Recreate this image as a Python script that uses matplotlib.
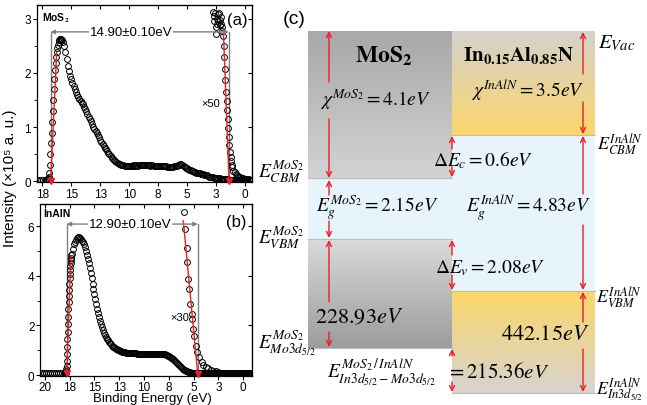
import matplotlib
matplotlib.use('Agg')
import matplotlib.pyplot as plt
import matplotlib.colors as mcolors
import numpy as np

plt.rcParams['font.family'] = ['Liberation Sans', 'DejaVu Sans']
plt.rcParams['mathtext.fontset'] = 'stix'

W, H = 647, 406

# ---------------------------------------------------------------- data (a)
# MoS2 valence band spectrum: binding energy (eV) / intensity (x1e5 a.u.)
MOS2_EV = np.round(np.concatenate([np.arange(18.0, 17.19, -0.2),
                                   np.arange(17.15, 15.84, -0.05),
                                   np.arange(15.8, -0.51, -0.1)]), 2)
MOS2_INT = [
    0.02, 0.02, 0.02, 0.02, 0.02,
    0.02, 0.03, 0.04, 0.06, 0.09, 0.15, 0.30, 0.50, 0.70, 0.90,
    1.10, 1.30, 1.50, 1.70, 1.88, 2.05, 2.18, 2.30, 2.39, 2.46,
    2.52, 2.57, 2.60, 2.62, 2.63, 2.62, 2.61,
    2.60, 2.56, 2.49, 2.39, 2.25, 2.13, 2.03, 1.95, 1.88, 1.82,
    1.76, 1.70, 1.64, 1.59, 1.55, 1.51, 1.48, 1.45, 1.42, 1.38,
    1.34, 1.29, 1.24, 1.19, 1.15, 1.11, 1.06, 1.01, 0.97, 0.93,
    0.89, 0.85, 0.81, 0.77, 0.73, 0.69, 0.66, 0.62, 0.59, 0.56,
    0.53, 0.50, 0.47, 0.44, 0.41, 0.39, 0.37, 0.35, 0.34, 0.33,
    0.32, 0.31, 0.30, 0.30, 0.29, 0.29, 0.29, 0.29, 0.29, 0.29,
    0.29, 0.30, 0.29, 0.29, 0.30, 0.30, 0.29, 0.30, 0.30, 0.30,
    0.30, 0.30, 0.30, 0.30, 0.30, 0.30, 0.29, 0.30, 0.30, 0.29,
    0.29, 0.29, 0.29, 0.29, 0.29, 0.28, 0.28, 0.28, 0.28, 0.28,
    0.28, 0.27, 0.27, 0.27, 0.27, 0.27, 0.27, 0.28, 0.29, 0.29,
    0.30, 0.31, 0.32, 0.32, 0.31, 0.29, 0.27, 0.25, 0.24, 0.23,
    0.22, 0.21, 0.20, 0.19, 0.18, 0.17, 0.16, 0.16, 0.15, 0.15,
    0.14, 0.14, 0.13, 0.12, 0.12, 0.11, 0.10, 0.09, 0.09, 0.08,
    0.08, 0.07, 0.07, 0.07, 0.06, 0.06, 0.06, 0.05, 0.05, 0.05,
    0.04, 0.04, 0.04, 0.04, 0.03, 0.03, 0.03, 0.03, 0.02, 0.02,
    0.02, 0.02, 0.02, 0.02, 0.02, 0.02, 0.02, 0.02, 0.02, 0.02,
    0.02, 0.02, 0.02, 0.02,
]
# x50 magnified valence band edge
MOS2_X50_EV = [2.76, 2.7, 2.65, 2.6, 2.55, 2.5, 2.45, 2.4, 2.35, 2.3,
               2.25, 2.2, 2.15, 2.1, 2.05, 2.0, 1.95, 1.9, 1.85, 1.8,
               1.75, 1.7, 1.65, 1.6, 1.55, 1.5, 1.45, 1.4, 1.35, 1.3,
               1.25, 1.2, 1.15, 1.1, 1.0, 0.9, 0.8, 0.7, 0.6, 0.5,
               0.4, 0.3, 0.2, 0.1, 0.0, -0.1, -0.2, -0.3, -0.4, -0.5]
MOS2_X50_INT = [3.12, 3.05, 2.95, 3.10, 2.85, 2.72, 3.00, 2.90, 3.08, 2.95,
                3.10, 2.98, 2.88, 3.02, 2.90, 2.78, 2.85, 2.68, 2.50, 2.30,
                2.08, 1.86, 1.65, 1.48, 1.32, 1.15, 0.98, 0.82, 0.67, 0.55,
                0.45, 0.38, 0.31, 0.26, 0.20, 0.17, 0.14, 0.12, 0.10, 0.09,
                0.08, 0.07, 0.06, 0.05, 0.05, 0.04, 0.04, 0.04, 0.03, 0.03]
MOS2_FIT_L = ([16.78, 16.26], [0.0, 2.37])
MOS2_FIT_R = ([1.38, 1.87], [0.0, 2.79])
MOS2_CUTOFF, MOS2_VBM_EDGE = 16.78, 1.40
MOS2_WIDTH = '14.90±0.10eV'

# ---------------------------------------------------------------- data (b)
INALN_EV = np.round(np.concatenate([np.arange(20.5, 18.05, -0.2),
                                    np.arange(18.0, 17.29, -0.025),
                                    np.arange(17.2, -0.91, -0.1)]), 3)
INALN_INT = [
    0.07, 0.07, 0.07, 0.07, 0.07, 0.07, 0.07, 0.07, 0.07, 0.07, 0.07, 0.07, 0.07,
    0.08, 0.08, 0.09, 0.10, 0.12, 0.16, 0.24, 0.38, 0.58, 0.85,
    1.15, 1.45, 1.75, 2.05, 2.35, 2.65, 2.93, 3.20, 3.45, 3.68,
    3.90, 4.08, 4.25, 4.40, 4.53, 4.64, 4.74, 4.83, 4.90,
    5.10, 5.27, 5.38, 5.46, 5.52, 5.55, 5.55, 5.52, 5.48, 5.42,
    5.35, 5.27, 5.15, 5.00, 4.85, 4.68, 4.50, 4.30, 4.10, 3.90,
    3.68, 3.46, 3.25, 3.05, 2.86, 2.68, 2.50, 2.33, 2.18, 2.04,
    1.92, 1.81, 1.71, 1.62, 1.53, 1.46, 1.40, 1.34, 1.29, 1.24,
    1.19, 1.15, 1.12, 1.09, 1.06, 1.03, 1.01, 0.99, 0.97, 0.95,
    0.94, 0.93, 0.92, 0.91, 0.90, 0.90, 0.89, 0.89, 0.88, 0.88,
    0.88, 0.87, 0.87, 0.87, 0.87, 0.86, 0.86, 0.86, 0.86, 0.86,
    0.86, 0.85, 0.85, 0.85, 0.85, 0.85, 0.85, 0.85, 0.85, 0.85,
    0.85, 0.85, 0.85, 0.85, 0.85, 0.84, 0.84, 0.84, 0.84, 0.84,
    0.84, 0.84, 0.83, 0.83, 0.82, 0.80, 0.78, 0.76, 0.73, 0.70,
    0.67, 0.63, 0.60, 0.56, 0.52, 0.48, 0.44, 0.40, 0.36, 0.32,
    0.28, 0.25, 0.22, 0.19, 0.17, 0.15, 0.13, 0.12, 0.11, 0.10,
    0.09, 0.09, 0.08, 0.08, 0.08, 0.08, 0.07, 0.07, 0.07, 0.07,
    0.07, 0.07, 0.07, 0.07, 0.07, 0.07, 0.07, 0.07, 0.07, 0.07,
    0.07, 0.07, 0.07, 0.07, 0.07, 0.07, 0.07, 0.07, 0.07, 0.07,
    0.07, 0.07, 0.07, 0.07, 0.07, 0.07, 0.07, 0.07, 0.07, 0.07,
    0.07, 0.07, 0.07, 0.07, 0.07, 0.07, 0.07, 0.07, 0.07, 0.07,
    0.07, 0.07, 0.07, 0.07, 0.07, 0.07, 0.07, 0.07, 0.07, 0.07,
    0.07, 0.07,
]
INALN_X30_EV = [5.96, 5.86, 5.69, 5.63, 5.53, 5.42, 5.35, 5.18, 5.12, 5.02,
                4.92, 4.75, 4.62, 4.41, 4.17, 4.0, 3.75, 3.5, 3.25, 3.0,
                2.75, 2.5, 2.25, 2.0, 1.75, 1.5, 1.25, 1.0, 0.75, 0.5,
                0.25, 0.0, -0.25, -0.5, -0.75]
INALN_X30_INT = [6.56, 5.89, 5.12, 4.56, 3.87, 3.47, 2.86, 2.46, 2.26, 1.85,
                 1.58, 1.18, 0.93, 0.73, 0.52, 0.40, 0.33, 0.27, 0.22, 0.18,
                 0.15, 0.12, 0.10, 0.09, 0.08, 0.08, 0.07, 0.07, 0.07, 0.07,
                 0.07, 0.07, 0.07, 0.07, 0.07]
INALN_FIT_L = ([17.81, 17.37], [0.07, 4.81])
INALN_FIT_R = ([4.58, 6.03], [0.04, 6.22])
INALN_CUTOFF, INALN_VBM_EDGE = 17.81, 4.58
INALN_WIDTH = '12.90±0.10eV'

# ---------------------------------------------------------------- data (c)
CHI_MOS2, CHI_INALN = 4.1, 3.5
EG_MOS2, EG_INALN = 2.15, 4.83
DELTA_EC, DELTA_EV = 0.6, 2.08
CORE_MOS2, CORE_INALN, CORE_DIFF = 228.93, 442.15, 215.36

RED = '#ee1c25'
GRAY = '#7f7f7f'


def style_axes(ax, xticks, xlabels, yticks, yminor):
    ax.set_xticks(xticks)
    ax.set_xticklabels(xlabels)
    ax.set_yticks(yticks)
    ax.set_yticks(yminor, minor=True)
    ax.tick_params(direction='out', length=3, width=0.8, labelsize=8.5, pad=1)
    ax.tick_params(which='minor', direction='out', length=2, width=0.6)
    for s in ax.spines.values():
        s.set_linewidth(0.9)
    top = ax.secondary_xaxis('top')
    top.set_xticks(xticks)
    top.tick_params(direction='in', length=3, width=0.8, labeltop=False)
    right = ax.secondary_yaxis('right')
    right.set_yticks(yticks)
    right.tick_params(direction='in', length=3, width=0.8, labelright=False)


def width_arrow(ax, x0, x1, y, label, xlabel):
    ax.plot([x0, x0], [0, y], color=GRAY, lw=1.0, zorder=1)
    ax.plot([x1, x1], [0, y], color=GRAY, lw=1.0, zorder=1)
    ax.annotate('', xy=(x0, y), xytext=(x1, y),
                arrowprops=dict(arrowstyle='<|-|>', color=GRAY, lw=1.0,
                                mutation_scale=6, shrinkA=0, shrinkB=0))
    ax.text(xlabel, y, label, ha='center', va='center', fontsize=9.5,
            bbox=dict(facecolor='white', edgecolor='none', pad=0.5), zorder=4)


def spectrum(ax, ev, val):
    ax.plot(ev, val, 'o', mfc='none', mec='black', ms=4.2, mew=0.7, zorder=2)


def fit_line(ax, fit):
    ax.plot(fit[0], fit[1], color=RED, lw=1.0, zorder=3)
    ax.plot(fit[0][0], fit[1][0], 'v', color=RED, ms=4, zorder=3, clip_on=False)


fig = plt.figure(figsize=(W / 100, H / 100), dpi=100)

# ---------------------------------------------------------------- panel (a)
ax_a = fig.add_axes([36.5 / W, 1 - 183 / H, 215.5 / W, 177 / H])
spectrum(ax_a, MOS2_EV, MOS2_INT)
spectrum(ax_a, MOS2_X50_EV, MOS2_X50_INT)
fit_line(ax_a, MOS2_FIT_L)
fit_line(ax_a, MOS2_FIT_R)
width_arrow(ax_a, MOS2_CUTOFF, MOS2_VBM_EDGE, 2.755, MOS2_WIDTH, 9.85)
ax_a.set_xlim(18.0, -0.6)
ax_a.set_ylim(-0.01, 3.25)
style_axes(ax_a, [17.5, 15, 12.5, 10, 7.5, 5, 2.5, 0],
           ['18', '15', '13', '10', '8', '5', '3', '0'],
           [0, 1, 2, 3], [0.5, 1.5, 2.5])
ax_a.text(17.5, 3.03, r'MoS$_\mathbf{2}$', fontsize=7.5, fontweight='bold',
          ha='left', va='center')
ax_a.text(0.65, 2.98, '(a)', fontsize=12, ha='center', va='center')
ax_a.text(3.0, 1.44, '×50', fontsize=8, ha='center', va='center')

# ---------------------------------------------------------------- panel (b)
ax_b = fig.add_axes([40 / W, 1 - 376.5 / H, 212 / W, 171.5 / H])
spectrum(ax_b, INALN_EV, INALN_INT)
spectrum(ax_b, INALN_X30_EV, INALN_X30_INT)
fit_line(ax_b, INALN_FIT_L)
fit_line(ax_b, INALN_FIT_R)
width_arrow(ax_b, INALN_CUTOFF, INALN_VBM_EDGE, 6.09, INALN_WIDTH, 11.4)
ax_b.set_xlim(20.5, -0.9)
ax_b.set_ylim(-0.02, 6.9)
style_axes(ax_b, [20, 17.5, 15, 12.5, 10, 7.5, 5, 2.5, 0],
           ['20', '18', '15', '13', '10', '8', '5', '3', '0'],
           [0, 2, 4, 6], [1, 3, 5])
ax_b.text(20.2, 6.55, 'InAlN', fontsize=7.5, fontweight='bold',
          ha='left', va='center')
ax_b.text(0.65, 6.2, '(b)', fontsize=12, ha='center', va='center')
ax_b.text(6.36, 2.34, '×30', fontsize=8, ha='center', va='center')

fig.text(152 / W, 1 - 399 / H, 'Binding Energy (eV)', ha='center', va='center',
         fontsize=9.5)
fig.text(10 / W, 1 - 178 / H, 'Intensity (×10⁵ a. u.)', rotation=90,
         ha='center', va='center', fontsize=11)

# ---------------------------------------------------------------- panel (c)
axc = fig.add_axes([0, 0, 1, 1])
axc.set_zorder(5)
axc.axis('off')

X_L, X_M, X_R = 308, 452, 595
Y_VAC = 32
Y_CBM_M, Y_VBM_M, Y_CORE_M = 179, 240, 349
Y_CBM_I, Y_VBM_I, Y_CORE_I = 136, 292, 394


def grad_box(x0, x1, y0, y1, c_top, c_bot):
    t = np.linspace(0, 1, 256)[:, None, None]
    img = np.array(mcolors.to_rgb(c_top)) * (1 - t) + np.array(mcolors.to_rgb(c_bot)) * t
    axc.imshow(img, extent=(x0, x1, y1, y0), origin='upper', aspect='auto',
               interpolation='bilinear', zorder=1)


axc.fill_between([X_L, X_R], Y_CBM_I, Y_VBM_I, color='#e7f4fb', lw=0, zorder=0)
grad_box(X_L, X_M, Y_VAC, Y_CBM_M, '#a9a7a7', '#d3d3d3')
grad_box(X_M, X_R, Y_VAC, Y_CBM_I, '#d5d1cd', '#fcd66c')
grad_box(X_L, X_M, Y_VBM_M, Y_CORE_M, '#dadada', '#9c9c9c')
grad_box(X_M, X_R, Y_VBM_I, Y_CORE_I, '#fcd76a', '#d7d3d0')
for xs, y in [((X_L, X_M), Y_CBM_M), ((X_M, X_R), Y_CBM_I),
              ((X_L, X_M), Y_VBM_M), ((X_M, X_R), Y_VBM_I),
              ((X_L, X_M), Y_CORE_M), ((X_M, X_R), Y_CORE_I)]:
    axc.plot(xs, [y, y], color='#bdbdbd', lw=0.8, zorder=2)

ARROWS = {
    329: [(83, 32), (120, 179), (196, 181), (222, 239), (303, 241), (333, 348)],
    452: [(150, 137), (168, 178), (256, 241), (276, 291), (357, 350), (383, 393)],
    583: [(75, 33), (103, 135), (195, 137), (226, 291), (323, 293), (350, 393)],
}
for x, segs in ARROWS.items():
    for y_from, y_to in segs:
        axc.annotate('', xy=(x, y_to), xytext=(x, y_from),
                     arrowprops=dict(arrowstyle='->', color=RED, lw=1.0,
                                     shrinkA=0, shrinkB=0, mutation_scale=9),
                     zorder=3)

serif = dict(ha='center', va='center', zorder=4)
axc.text(294, 20, '(c)', fontsize=14, ha='center', va='center')
axc.text(384, 56, r'$\mathbf{MoS_2}$', fontsize=17, **serif)
axc.text(518, 56, r'$\mathbf{In_{0.15}Al_{0.85}N}$', fontsize=15, **serif)
axc.text(376, 100, r'$\chi^{MoS_2}=\mathit{%.1feV}$' % CHI_MOS2, fontsize=14, **serif)
axc.text(528, 90, r'$\chi^{InAlN}=\mathit{%.1feV}$' % CHI_INALN, fontsize=14, **serif)
axc.text(483, 160, r'$\Delta E_c=\mathit{%.1feV}$' % DELTA_EC, fontsize=14, **serif)
axc.text(377, 208, r'$E_g^{MoS_2}=\mathit{%.2feV}$' % EG_MOS2, fontsize=14, **serif)
axc.text(528, 208, r'$E_g^{InAlN}=\mathit{%.2feV}$' % EG_INALN, fontsize=14, **serif)
axc.text(490, 268, r'$\Delta E_v=\mathit{%.2feV}$' % DELTA_EV, fontsize=14, **serif)
axc.text(359, 318, r'$\mathit{%.2feV}$' % CORE_MOS2, fontsize=16, **serif)
axc.text(545, 335, r'$\mathit{%.2feV}$' % CORE_INALN, fontsize=16, **serif)
axc.text(381, 372, r'$E^{MoS_2\,/\,InAlN}_{In3d_{5/2}-Mo3d_{5/2}}$', fontsize=14, **serif)
axc.text(498, 372, r'$=\mathit{%.2feV}$' % CORE_DIFF, fontsize=15, **serif)

side = dict(ha='left', va='center', fontsize=13)
axc.text(598, 43, r'$E_{Vac}$', ha='left', va='center', fontsize=15)
axc.text(597, 145, r'$E_{CBM}^{InAlN}$', **side)
axc.text(596, 298, r'$E_{VBM}^{InAlN}$', **side)
axc.text(596, 390, r'$E_{In3d_{5/2}}^{InAlN}$', **side)
left = dict(ha='left', va='center', fontsize=14)
axc.text(258, 172, r'$E_{CBM}^{MoS_2}$', **left)
axc.text(258, 238, r'$E_{VBM}^{MoS_2}$', **left)
axc.text(258, 343, r'$E_{Mo3d_{5/2}}^{MoS_2}$', **left)

axc.set_xlim(0, W)
axc.set_ylim(H, 0)

fig.savefig('out.png', dpi=100)
